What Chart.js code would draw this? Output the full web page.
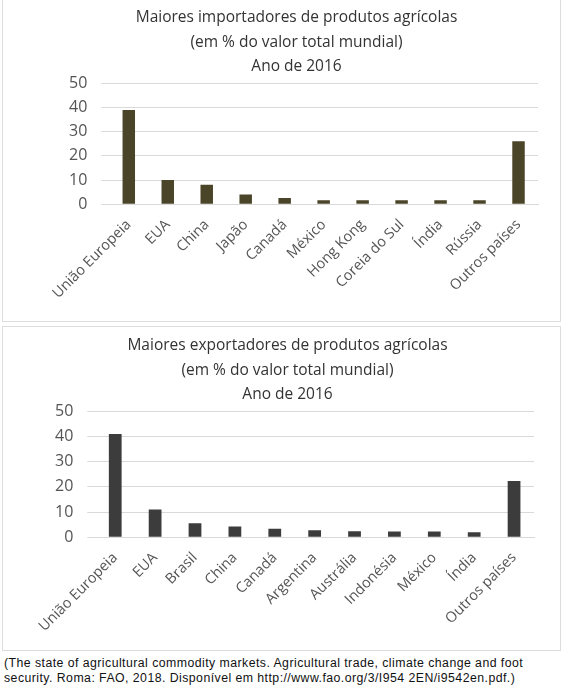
<!DOCTYPE html>
<html><head><meta charset="utf-8">
<script src="https://cdn.jsdelivr.net/npm/chart.js@4"></script>
<style>
body{margin:0;background:#fff;width:575px;height:700px;position:relative;font-family:"Open Sans",sans-serif;overflow:hidden}
.p{position:absolute;border:1px solid #ddd;background:#fff}
#note{position:absolute;left:4px;top:656px;width:566px;font-family:"Liberation Sans",Arial,sans-serif;font-size:12.3px;letter-spacing:0.45px;line-height:15px;color:#111}
</style></head><body>
<div class="p" style="left:2px;top:-2px;width:557px;height:322px"><canvas id="c1"></canvas></div>
<div class="p" style="left:2px;top:326px;width:557px;height:323px"><canvas id="c2"></canvas></div>
<div id="note">(The state of agricultural commodity markets. Agricultural trade, climate change and foot security. Roma: FAO, 2018. Disponível em http://www.fao.org/3/I954 2EN/i9542en.pdf.)</div>
<script>
const impCategories=["União Europeia","EUA","China","Japão","Canadá","México","Hong Kong","Coreia do Sul","Índia","Rússia","Outros países"];
const impValues=[39,10,8,4,2.5,1.6,1.6,1.6,1.6,1.6,26];
const expCategories=["União Europeia","EUA","Brasil","China","Canadá","Argentina","Austrália","Indonésia","México","Índia","Outros países"];
const expValues=[41,11,5.5,4.2,3.3,2.7,2.3,2.2,2.2,2.0,22.3];
const impTitle=["Maiores importadores de produtos agrícolas","(em % do valor total mundial)","Ano de 2016"];
const expTitle=["Maiores exportadores de produtos agrícolas","(em % do valor total mundial)","Ano de 2016"];
const yTicks=[0,10,20,30,40,50];
Chart.defaults.font.family='"Open Sans", sans-serif';
Chart.defaults.color='#555';
function make(id,cats,vals,title,color,pad){
 new Chart(document.getElementById(id),{type:'bar',
  data:{labels:cats,datasets:[{data:vals,backgroundColor:color,borderWidth:0,barPercentage:0.32,categoryPercentage:1}]},
  options:{responsive:true,maintainAspectRatio:false,animation:false,
   layout:{padding:pad},
   plugins:{legend:{display:false},tooltip:{enabled:false},
    title:{display:true,text:title,color:'#333',font:{size:15.5,weight:'normal',lineHeight:1.6},padding:{top:6,bottom:4}}},
   scales:{
    x:{grid:{display:false},border:{color:'#d9d9d9'},ticks:{color:'#555',font:{size:14.5},maxRotation:45,minRotation:45,autoSkip:false,padding:4}},
    y:{min:0,max:50,afterBuildTicks:a=>{a.ticks=yTicks.map(v=>({value:v}))},grid:{color:'#d9d9d9'},border:{display:false},ticks:{color:'#555',font:{size:16},padding:14}}
   }}});
}
make('c1',impCategories,impValues,impTitle,'#4a4428',{left:52,right:22,top:0,bottom:15});
make('c2',expCategories,expValues,expTitle,'#3c3c3c',{left:38,right:26,top:0,bottom:11});
</script></body></html>
